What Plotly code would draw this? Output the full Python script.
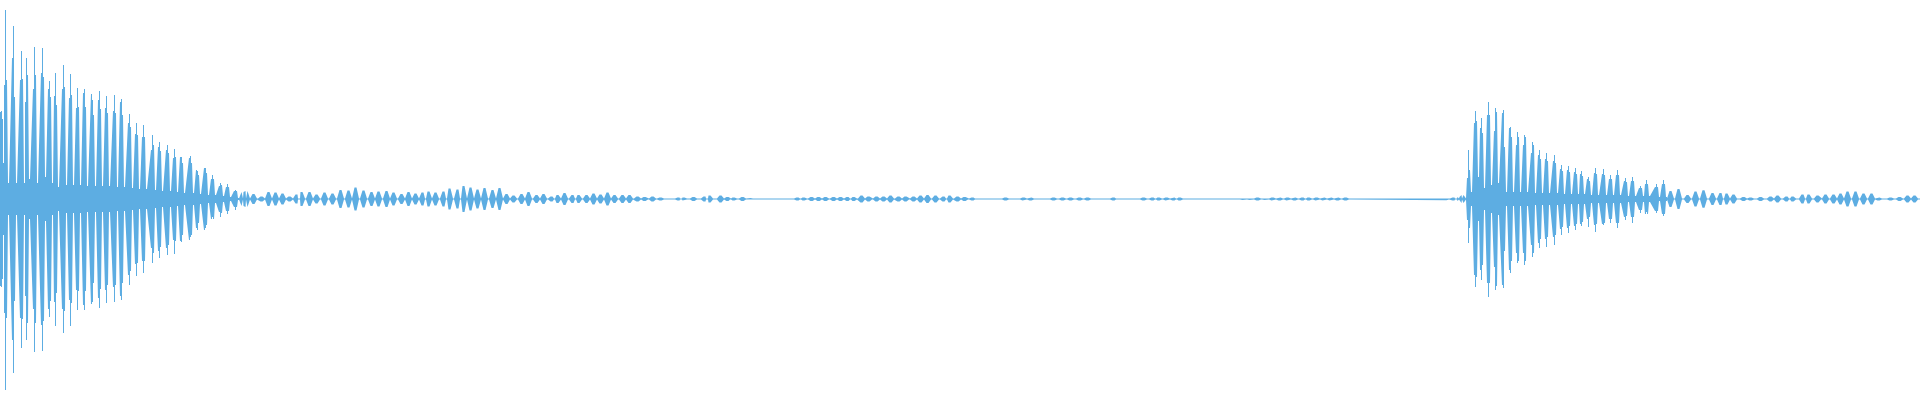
import plotly.graph_objects as go

# Waveform. x = pixel column (time index),
# amplitudes in percent of full scale (positive up / negative down).
COLOR = "#5dade2"
FLOOR = 0.3  # thin baseline level between blobs

# leading columns at the very left edge
lead_col = [0, 1, 2, 3]
lead_amp = [43.5, 44.0, 40.0, 18.0]

# ---- first burst: one entry per oscillation period ----
b1_col = [5, 13, 21, 26, 34, 42, 49, 55, 63, 70, 77, 84, 92, 99, 106, 114, 121,
          129, 136, 143, 152, 159, 167, 174, 181, 190, 197, 205, 212, 220, 227, 235]
b1_up = [94.5, 86.5, 74.0, 70.5, 76.0, 75.5, 59.0, 63.0, 67.0, 62.5, 55.5, 55.0, 49.5,
         54.0, 51.5, 52.0, 50.0, 42.5, 38.0, 37.0, 32.0, 28.5, 27.0, 25.0, 21.0, 21.5,
         14.0, 15.5, 12.0, 8.0, 7.5, 4.5]
b1_dn = [95.5, 87.0, 74.5, 70.5, 76.5, 76.0, 59.0, 63.5, 67.0, 63.5, 55.5, 55.5, 51.5,
         54.5, 52.0, 51.5, 50.5, 43.0, 38.5, 37.0, 32.0, 29.5, 28.0, 27.5, 21.5, 19.0,
         15.5, 14.5, 9.0, 9.0, 7.5, 5.5]
b1_pre = [57.0, 70.5, 59.5, 48.5, 55.0, 63.0, 55.0, 51.5, 55.0, 50.5, 45.5, 53.0, 52.5,
          49.5, 45.5, 44.0, 48.5, 38.0, 32.5, 31.0, 24.5, 26.0, 24.5, 20.5, 21.0, 20.5,
          14.5, 15.5, 10.0, 6.5, 6.0, 4.0]
b1_post = [59.5, 51.0, 60.0, 62.0, 62.0, 61.0, 51.0, 47.0, 56.0, 52.0, 46.0, 46.0, 42.0,
           45.0, 43.0, 43.0, 42.0, 36.0, 32.0, 31.0, 27.0, 24.0, 23.0, 21.0, 18.0, 18.0,
           12.0, 13.0, 10.0, 7.0, 6.0, 4.0]
b1_dip = [8.0, 8.0, 8.0, 10.0, 8.0, 11.0, 8.0, 6.0, 7.0, 7.0, 7.0, 6.5, 6.5, 6.5, 6.5,
          6.0, 6.0, 5.5, 5.0, 5.0, 4.5, 4.0, 4.0, 3.5, 3.0, 3.0, 2.5, 2.0, 2.0, 1.5,
          1.0, 0.5]

# ---- second burst ----
b2_col = [1468, 1475, 1481, 1488, 1495, 1503, 1510, 1517, 1524, 1532, 1539, 1546, 1554,
          1561, 1568, 1575, 1581, 1588, 1595, 1603, 1610, 1617, 1625, 1632, 1640, 1646,
          1656, 1663]
b2_up = [24.5, 44.0, 40.5, 48.5, 45.5, 44.5, 36.0, 33.5, 32.0, 28.5, 24.5, 23.0, 22.0,
         17.0, 16.5, 15.5, 14.0, 11.0, 15.5, 15.0, 12.0, 14.5, 10.5, 11.0, 6.5, 9.5,
         7.5, 9.5]
b2_dn = [22.0, 44.0, 40.5, 49.0, 45.5, 44.5, 37.0, 32.0, 33.0, 29.0, 24.5, 24.0, 23.0,
         18.0, 17.0, 15.5, 13.5, 14.0, 16.5, 13.0, 12.0, 14.5, 10.5, 12.0, 7.0, 6.5,
         7.0, 8.5]
b2_pre = [10.5, 38.0, 35.5, 42.0, 34.0, 43.0, 35.5, 27.0, 27.0, 23.0, 22.0, 20.0, 19.0,
          15.0, 14.5, 13.5, 12.5, 10.0, 13.0, 12.5, 10.0, 12.0, 9.0, 9.0, 5.5, 7.5,
          6.0, 7.5]
b2_post = [14.5, 39.0, 33.0, 42.0, 43.5, 26.0, 31.0, 31.0, 31.0, 27.0, 20.0, 19.0, 18.0,
           14.0, 13.5, 12.5, 11.5, 9.0, 12.5, 12.0, 10.0, 12.0, 8.5, 9.0, 5.5, 7.5,
           6.0, 7.5]
b2_dip = [3.5, 11.0, 5.5, 7.0, 8.0, 3.5, 3.5, 3.5, 3.5, 3.0, 3.0, 3.0, 3.0, 2.5, 2.5,
          2.5, 2.5, 2.0, 2.0, 2.0, 2.0, 2.0, 1.5, 1.5, 1.5, 1.5, 1.0, 1.0]

# ---- quiet stretches: small blobs (centre column, peak amplitude) ----
q_col = [242, 246, 253, 261, 268, 275, 282, 289, 296, 301, 309, 316, 324, 332, 340, 348,
         355, 363, 371, 378, 386, 393, 401, 408, 415, 422, 428, 435, 443, 449, 457, 463,
         470, 477, 484, 492, 499, 506, 513, 521, 528, 536, 543, 551, 557, 564, 572, 578,
         586, 593, 600, 607, 614, 622, 629, 637, 644, 652, 660, 668, 678, 683, 693, 704,
         709, 720, 727, 733, 742, 749, 757, 765, 773, 780, 788, 797, 803, 811, 818, 825,
         833, 840, 847, 853, 861, 868, 876, 883, 890, 898, 905, 913, 920, 927, 935, 943,
         949, 957, 964, 972, 978, 1005, 1023, 1030, 1045, 1053, 1062, 1070, 1079, 1087,
         1095, 1103, 1113, 1119, 1127, 1134, 1143, 1152, 1158, 1166, 1173, 1179, 1187,
         1200, 1215, 1230, 1243, 1250, 1257, 1265, 1272, 1279, 1287, 1294, 1302, 1308,
         1316, 1323, 1330, 1337, 1345, 1355, 1365, 1375, 1385, 1395, 1405, 1415, 1425,
         1435, 1445, 1453, 1458, 1462,
         1670, 1678, 1687, 1695, 1703, 1712, 1720, 1726, 1733, 1743, 1750, 1760, 1770,
         1777, 1786, 1792, 1802, 1808, 1817, 1825, 1833, 1840, 1847, 1855, 1863, 1871,
         1878, 1890, 1899, 1907, 1914]
q_amp = [3.5, 4.0, 2.5, 1.2, 3.5, 3.2, 2.8, 1.2, 2.2, 3.5, 3.5, 2.2, 3.3, 2.8, 4.5, 4.2,
         5.8, 4.2, 3.5, 3.7, 4.0, 3.3, 2.5, 3.5, 2.8, 3.2, 3.8, 3.2, 3.8, 5.2, 4.8, 6.5,
         5.8, 4.8, 5.5, 4.5, 5.5, 2.5, 1.8, 2.5, 3.5, 2.0, 2.5, 1.3, 2.0, 3.0, 2.0, 2.0,
         2.0, 2.7, 2.3, 3.3, 2.0, 2.0, 2.0, 1.3, 1.0, 1.3, 0.7, 0.5, 0.7, 0.7, 1.0, 1.3,
         1.7, 1.7, 1.0, 0.7, 1.0, 0.5, 0.5, 0.3, 0.5, 0.5, 0.5, 0.7, 0.7, 1.0, 1.0, 1.0,
         1.0, 1.0, 1.0, 1.0, 1.7, 1.3, 1.3, 1.3, 1.7, 1.3, 1.3, 1.3, 1.7, 2.0, 1.7, 1.3,
         1.7, 1.3, 1.0, 0.7, 0.5, 0.7, 0.7, 0.7, 0.5, 0.7, 0.7, 0.7, 0.7, 0.7,
         0.5, 0.5, 0.7, 0.5, 0.5, 0.5, 0.7, 0.7, 0.7, 0.7, 0.7, 0.7, 0.5,
         0.4, 0.4, 0.4, 0.5, 0.5, 0.7, 0.5, 0.7, 0.7, 0.7, 0.7, 0.7, 0.7,
         0.7, 0.7, 0.7, 0.7, 0.7, 0.5, 0.5, 0.4, 0.4, 0.5, 0.5, 0.4, 0.5,
         0.5, 0.6, 0.8, 1.0, 2.0,
         4.0, 5.0, 2.0, 3.8, 4.4, 3.0, 3.0, 2.7, 2.2, 1.0, 0.7, 1.0, 1.3,
         1.7, 1.3, 1.3, 2.2, 2.2, 1.7, 2.3, 2.3, 2.7, 3.7, 3.7, 2.7, 2.7,
         0.8, 0.7, 1.0, 1.7, 1.7]


def burst_nodes(cols, up, dn, pre, post, dip):
    # each period drawn as pixel columns: shoulder column, crest column,
    # shoulder column, then the narrow trough column between humps
    out = []
    for c, u, d, p, q, v in zip(cols, up, dn, pre, post, dip):
        out += [(c - 1, p, p), (c, p, p), (c, u, d), (c + 1, u, d),
                (c + 1, q, q), (c + 2, q, q), (c + 3, v, v), (c + 4, v, v)]
    return out


nodes = []
for c, a in zip(lead_col, lead_amp):
    nodes += [(c, a, a), (c + 1, a, a)]
nodes += burst_nodes(b1_col, b1_up, b1_dn, b1_pre, b1_post, b1_dip)
nodes += burst_nodes(b2_col, b2_up, b2_dn, b2_pre, b2_post, b2_dip)
for c, a in zip(q_col, q_amp):
    nodes += [(c - 3, FLOOR, FLOOR), (c - 0.5, a, a), (c + 1.5, a, a), (c + 4, FLOOR, FLOOR)]
nodes.append((1920, FLOOR, FLOOR))
nodes.sort(key=lambda n: n[0])

xs = [n[0] for n in nodes]
ups = [n[1] for n in nodes]
dns = [-n[2] for n in nodes]

fig = go.Figure()
fig.add_trace(go.Scatter(
    x=xs + xs[::-1], y=ups + dns[::-1],
    mode="lines", fill="toself", fillcolor=COLOR,
    line=dict(color=COLOR, width=0), hoverinfo="skip", showlegend=False,
))
fig.update_layout(
    width=1920, height=400,
    margin=dict(l=0, r=0, t=0, b=0, pad=0),
    paper_bgcolor="white", plot_bgcolor="white",
    xaxis=dict(range=[0, 1920], visible=False, fixedrange=True),
    yaxis=dict(range=[-100.5, 99.5], visible=False, fixedrange=True),
    showlegend=False,
)
fig.write_html(
    "out.html",
    config={"displayModeBar": False},
    post_script="document.body.style.margin='0';document.body.style.overflow='hidden';",
)
